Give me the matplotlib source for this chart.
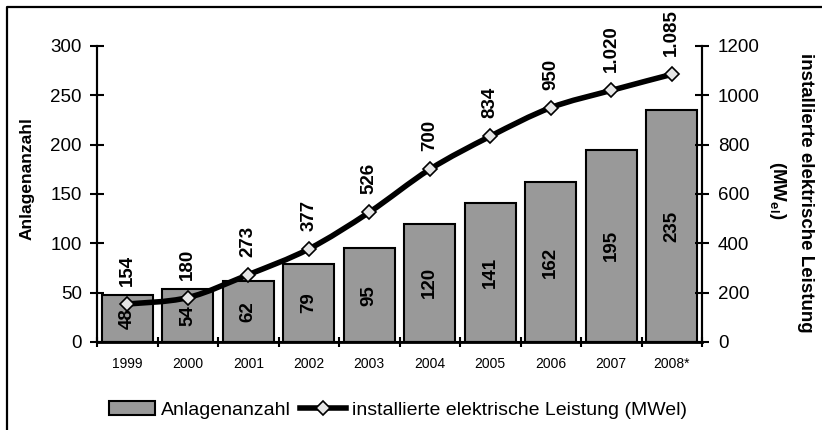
import numpy as np
import matplotlib
matplotlib.use("Agg")
import matplotlib.pyplot as plt
from matplotlib.path import Path
from matplotlib.patches import PathPatch, Patch
from matplotlib.lines import Line2D

plt.rcParams['font.family'] = ['Liberation Sans', 'DejaVu Sans']
plt.rcParams['mathtext.fontset'] = 'custom'
plt.rcParams['mathtext.rm'] = 'Liberation Sans'
plt.rcParams['mathtext.bf'] = 'Liberation Sans:bold'

# ---- data ----
years = ["1999", "2000", "2001", "2002", "2003", "2004", "2005", "2006", "2007", "2008*"]
anlagen = [48, 54, 62, 79, 95, 120, 141, 162, 195, 235]
leistung = [154, 180, 273, 377, 526, 700, 834, 950, 1020, 1085]
leistung_labels = ["154", "180", "273", "377", "526", "700", "834", "950", "1.020", "1.085"]
left_ticks = [0, 50, 100, 150, 200, 250, 300]
right_ticks = [0, 200, 400, 600, 800, 1000, 1200]

W, H = 822, 430
fig = plt.figure(figsize=(W / 100, H / 100), dpi=100)
ax = fig.add_axes([97 / W, 1 - 342 / H, (702 - 97) / W, (342 - 46) / H])
ax2 = ax.twinx()

x = np.arange(len(years))
bar_color = "#999999"
ax.bar(x, anlagen, width=0.84, color=bar_color, edgecolor="black", linewidth=1.5, zorder=2)
for xi, v in zip(x, anlagen):
    ax.text(xi, v / 2, str(v), rotation=90, ha="center", va="center",
            fontsize=13.5, fontweight="bold", zorder=3)

ax.set_xlim(-0.5, len(years) - 0.5)
ax.set_ylim(0, 300)
ax2.set_ylim(0, 1200)
ax.set_yticks(left_ticks)
ax2.set_yticks(right_ticks)

ax.set_xticks(x)
ax.set_xticklabels(years, fontsize=10)
ax.set_xticks(np.arange(-0.5, len(years)), minor=True)
ax.tick_params(axis="x", which="major", length=0, pad=11)
ax.tick_params(axis="x", which="minor", direction="inout", length=7, width=1.5)
ax.tick_params(axis="y", direction="inout", length=10, width=1.5, pad=6, labelsize=13.5)
ax2.tick_params(axis="y", direction="inout", length=10, width=1.5, pad=6.5, labelsize=13.5)

for a in (ax, ax2):
    a.spines["top"].set_visible(False)
    for s in ("left", "right", "bottom"):
        a.spines[s].set_linewidth(1.5)
ax.spines["bottom"].set_linewidth(2)

# smoothed line (Catmull-Rom -> cubic Bezier) through data points
P = np.column_stack([x, leistung]).astype(float)
verts = [tuple(P[0])]
codes = [Path.MOVETO]
n = len(P)
for i in range(n - 1):
    p0 = P[i - 1] if i > 0 else P[i]
    p1 = P[i]
    p2 = P[i + 1]
    p3 = P[i + 2] if i + 2 < n else P[i + 1]
    c1 = p1 + (p2 - p0) / 6.0
    c2 = p2 - (p3 - p1) / 6.0
    verts += [tuple(c1), tuple(c2), tuple(p2)]
    codes += [Path.CURVE4] * 3
ax2.add_patch(PathPatch(Path(verts, codes), fill=False, edgecolor="black",
                        linewidth=4, capstyle="round", joinstyle="round", zorder=4))
ax2.plot(x, leistung, linestyle="none", marker="D", markersize=7.5,
         markerfacecolor="#e6e6e6", markeredgecolor="black", markeredgewidth=1.2, zorder=5)
for xi, v, lab in zip(x, leistung, leistung_labels):
    ax2.annotate(lab, xy=(xi, v), xytext=(0, 13), textcoords="offset points",
                 rotation=90, ha="center", va="bottom", fontsize=13.5, fontweight="bold")

# axis labels
fig.text(27 / W, 1 - 179 / H, "Anlagenanzahl", rotation=90, ha="center", va="center",
         fontsize=12.5, fontweight="bold")
fig.text(805 / W, 1 - 193 / H, "installierte elektrische Leistung", rotation=270,
         ha="center", va="center", fontsize=13.5, fontweight="bold")
fig.text(777 / W, 1 - 190 / H, r"(MW$_{\mathbf{el}}$)", rotation=270,
         ha="center", va="center", fontsize=13.5, fontweight="bold")

# legend
h1 = Patch(facecolor=bar_color, edgecolor="black", linewidth=1.5)
h2 = Line2D([], [], color="black", linewidth=4, marker="D", markersize=7.5,
            markerfacecolor="#e6e6e6", markeredgecolor="black", markeredgewidth=1.2)
fig.legend([h1, h2], ["Anlagenanzahl", "installierte elektrische Leistung (MWel)"],
           loc="center", bbox_to_anchor=(398 / W, 1 - 410 / H), ncol=2, frameon=False,
           fontsize=14, handlelength=2.4, handletextpad=0.3, columnspacing=0.45,
           borderpad=0, borderaxespad=0)

# figure border (left and top edges visible)
fig.add_artist(Line2D([6.5 / W, 6.5 / W, 1.0], [0.0, 1 - 6.5 / H, 1 - 6.5 / H],
                      transform=fig.transFigure, color="black", linewidth=1.6))

fig.savefig("out.png", dpi=100)
